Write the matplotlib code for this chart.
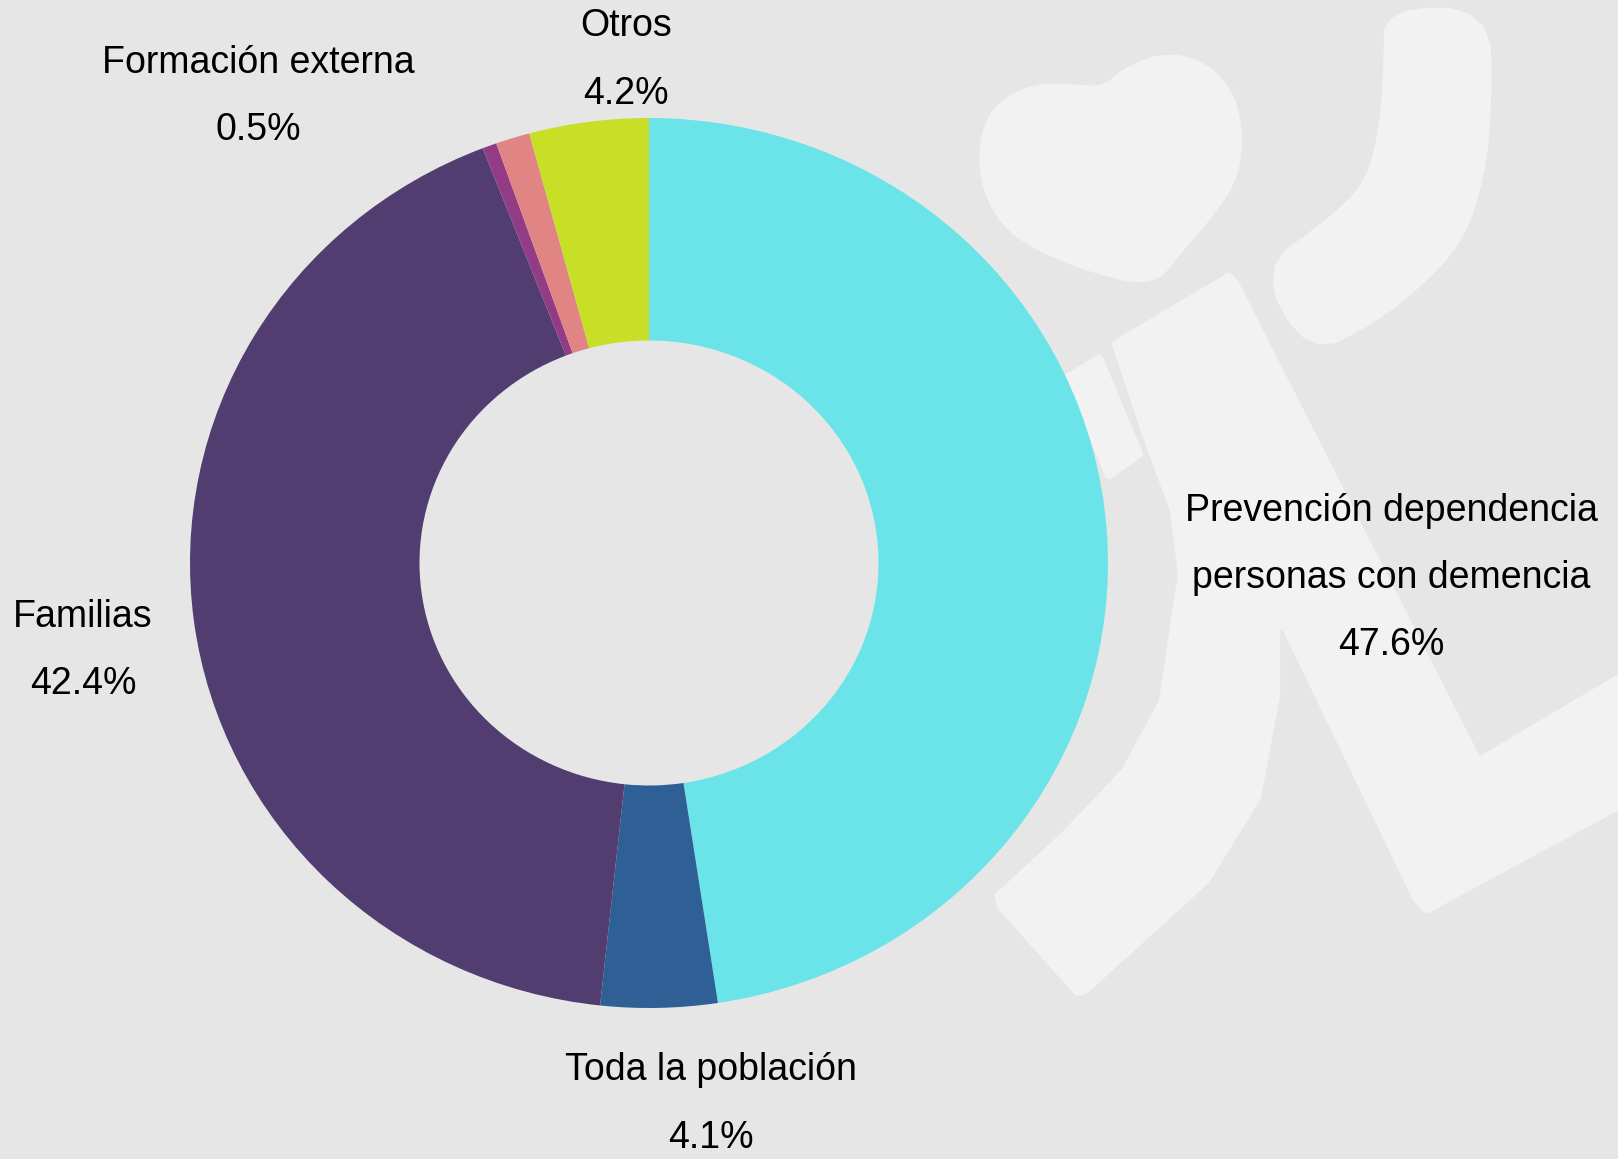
import numpy as np
import matplotlib.pyplot as plt
from matplotlib.patches import Polygon

plt.rcParams['font.family'] = ['Liberation Sans', 'DejaVu Sans']

# data (clockwise from 12 o'clock)
categories = ["Prevención dependencia\npersonas con demencia", "Toda la población",
              "Familias", "Formación externa", "", "Otros"]
shares = [47.6, 4.1, 42.4, 0.5, 1.2, 4.2]
colors = ["#6ae4e8", "#2e6096", "#523d70", "#923c85", "#e18484", "#c7df27"]

# label centres in pie units (x, y), hand placed
label_xy = [(1.617, -0.034), (0.135, -1.216), (-1.233, -0.196),
            (-0.852, 1.049), None, (-0.050, 1.130)]

W, H = 1618, 1159
BG = "#e6e6e6"
MARK = "#f2f2f2"


def smooth(pts, n=3):
    # chaikin corner cutting, just to round off the logo outline
    p = np.asarray(pts, float)
    for _ in range(n):
        q = np.roll(p, -1, axis=0)
        p = np.column_stack([0.75 * p + 0.25 * q, 0.25 * p + 0.75 * q]).reshape(-1, 2)
    return p


fig = plt.figure(figsize=(W / 100, H / 100), dpi=100, facecolor=BG)

# watermark logo, drawn in pixel space behind the pie
bg = fig.add_axes([0, 0, 1, 1])
bg.set_xlim(0, W)
bg.set_ylim(H, 0)
bg.axis("off")
heart = [(1151, 284), (1073, 263), (1011, 232), (986, 191), (982, 144), (996, 108),
         (1032, 88), (1073, 88), (1104, 91), (1125, 72), (1161, 57), (1197, 62),
         (1228, 88), (1240, 134), (1233, 181), (1207, 217), (1176, 253)]
arm = [(1388, 12), (1486, 12), (1488, 103), (1481, 175), (1461, 237), (1424, 279),
       (1373, 320), (1310, 351), (1264, 270), (1331, 222), (1368, 186), (1383, 134),
       (1388, 62)]
bit = [(1069, 377), (1099, 359), (1139, 454), (1109, 475)]
body = [(1116, 344), (1229, 277), (1235, 284), (1478, 762), (1640, 666), (1640, 794),
        (1427, 909), (1417, 899), (1282, 619), (1276, 630), (1276, 695), (1257, 797),
        (1206, 880), (1086, 989), (1078, 992), (1001, 906), (999, 896), (1065, 835),
        (1125, 772), (1163, 702), (1182, 574), (1174, 510), (1146, 434)]
for shape, n in ((heart, 3), (arm, 2), (bit, 0), (body, 0)):
    bg.add_patch(Polygon(smooth(shape, n), closed=True, facecolor=MARK,
                         edgecolor=MARK, lw=6, joinstyle="round"))

# pie axes, stretched a little vertically like the original
ax = fig.add_axes([0, 0, 1, 1])
ax.patch.set_alpha(0)
ax.pie(shares, colors=colors, startangle=90, counterclock=False, radius=1,
       wedgeprops=dict(width=0.5, linewidth=0))
ax.set_aspect("auto")
cx, cy, rx, ry = 649, 563, 459, 445
ax.set_xlim(-cx / rx, (W - cx) / rx)
ax.set_ylim(-(H - cy) / ry, cy / ry)
ax.axis("off")

for name, val, pos in zip(categories, shares, label_xy):
    if pos is None or not name:
        continue
    ax.text(pos[0], pos[1], f"{name}\n{val}%", ha="center", va="center",
            fontsize=27, linespacing=2.12, color="black")

fig.savefig("out.png", dpi=100, facecolor=BG)
